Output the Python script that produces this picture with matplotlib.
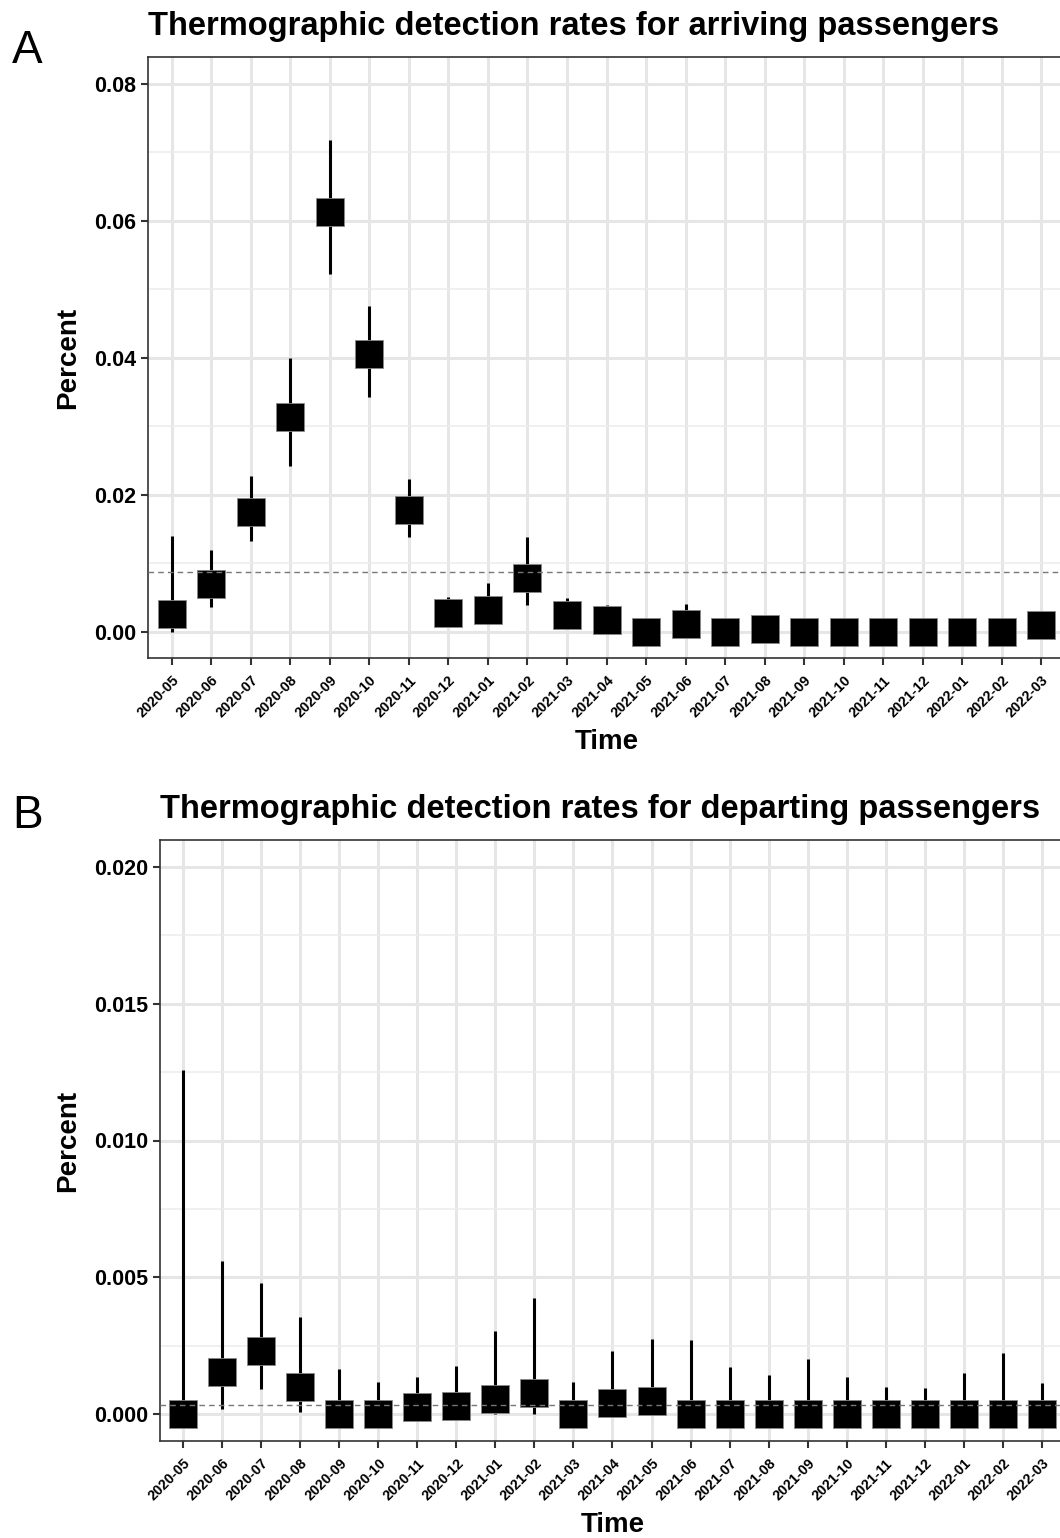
import matplotlib
matplotlib.use("Agg")
import matplotlib.pyplot as plt
from matplotlib.ticker import MultipleLocator

plt.rcParams['font.family'] = ['Liberation Sans', 'DejaVu Sans']

months = ["2020-05", "2020-06", "2020-07", "2020-08", "2020-09", "2020-10",
          "2020-11", "2020-12", "2021-01", "2021-02", "2021-03", "2021-04",
          "2021-05", "2021-06", "2021-07", "2021-08", "2021-09", "2021-10",
          "2021-11", "2021-12", "2022-01", "2022-02", "2022-03"]

# arriving passengers (percent)
arr_rate = [0.0026, 0.0070, 0.0175, 0.0314, 0.0613, 0.0406, 0.0178, 0.0028,
            0.0032, 0.0079, 0.0025, 0.0017, 0.0, 0.0011, 0.0, 0.0004,
            0.0, 0.0, 0.0, 0.0, 0.0, 0.0, 0.0010]
arr_lo = [0.0, 0.0036, 0.0133, 0.0242, 0.0523, 0.0343, 0.0139, 0.0010,
          0.0012, 0.0039, 0.0008, 0.0004, 0.0, 0.0001, 0.0, 0.0,
          0.0, 0.0, 0.0, 0.0, 0.0, 0.0, 0.0002]
arr_hi = [0.0140, 0.0120, 0.0228, 0.0400, 0.0718, 0.0476, 0.0223, 0.0051,
          0.0071, 0.0139, 0.0049, 0.0039, 0.0005, 0.0041, 0.0005, 0.0015,
          0.0005, 0.0005, 0.0005, 0.0005, 0.0005, 0.0005, 0.0025]
arr_mean = 0.0087

# departing passengers (percent)
dep_rate = [0.0, 0.00154, 0.00231, 0.00097, 0.0, 0.0, 0.00024, 0.00030,
            0.00054, 0.00077, 0.0, 0.00041, 0.00048, 0.0, 0.0, 0.0,
            0.0, 0.0, 0.0, 0.0, 0.0, 0.0, 0.0]
dep_lo = [0.0, 0.00017, 0.0009, 0.00007, 0.0, 0.0, 0.00001, 0.00002,
          0.0, 0.0, 0.0, 0.00001, 0.00002, 0.0, 0.0, 0.0,
          0.0, 0.0, 0.0, 0.0, 0.0, 0.0, 0.0]
dep_hi = [0.01258, 0.00559, 0.0048, 0.00356, 0.00165, 0.00116, 0.00136, 0.00176,
          0.00305, 0.00425, 0.00116, 0.00231, 0.00274, 0.00269, 0.00172, 0.00143,
          0.0020, 0.00134, 0.0010, 0.00095, 0.0015, 0.00224, 0.00112]
dep_mean = 0.00032

W, H = 1060, 1538
fig = plt.figure(figsize=(W / 100, H / 100), dpi=100)


def panel(rect, rate, lo, hi, mean, ylim, ystep, yfmt, title, letter, letter_y):
	ax = fig.add_axes(rect)
	x = list(range(1, len(months) + 1))
	ax.set_xlim(0.4, len(months) + 0.6)
	ax.set_ylim(ylim)
	ax.yaxis.set_major_locator(MultipleLocator(ystep))
	ax.yaxis.set_minor_locator(MultipleLocator(ystep / 2))
	ax.grid(True, which="major", color="#E6E6E6", linewidth=2.2, zorder=0)
	ax.grid(True, which="minor", axis="y", color="#EDEDED", linewidth=1.2, zorder=0)
	ax.tick_params(axis="y", which="minor", length=0)
	ax.set_axisbelow(True)
	ax.vlines(x, lo, hi, color="black", linewidth=2.2, zorder=2)
	ax.plot(x, rate, linestyle="none", marker="s", markersize=20.5,
		markerfacecolor="black", markeredgecolor="#888888", markeredgewidth=0.6, zorder=3)
	ax.axhline(mean, color="#777777", linewidth=1.0, linestyle=(0, (4, 3)), zorder=4)
	ax.set_xticks(x)
	ax.set_xticklabels(months, rotation=45, ha="right", rotation_mode="anchor",
		fontsize=10.3, fontweight="bold")
	ax.set_yticklabels([yfmt % v for v in ax.get_yticks()], fontsize=15.5, fontweight="bold")
	ax.set_ylim(ylim)
	ax.tick_params(axis="both", which="major", length=5, width=1.5, color="#333333")
	ax.tick_params(axis="x", pad=6)
	for s in ax.spines.values():
		s.set_color("#333333")
		s.set_linewidth(1.2)
	ax.set_xlabel("Time", fontsize=20, fontweight="bold", labelpad=6)
	ax.set_ylabel("Percent", fontsize=20, fontweight="bold", labelpad=9)
	ax.set_title(title, loc="left", fontsize=23.5, fontweight="bold", pad=16)
	fig.text(12 / W, letter_y, letter, fontsize=33, ha="left", va="baseline")
	return ax


panel([148 / W, 1 - 658 / H, 917 / W, 601 / H], arr_rate, arr_lo, arr_hi, arr_mean,
	(-0.0038, 0.0839), 0.02, "%.2f",
	"Thermographic detection rates for arriving passengers", "A", 1 - 63 / H)
panel([160 / W, 1 - 1441 / H, 905 / W, 601 / H], dep_rate, dep_lo, dep_hi, dep_mean,
	(-0.00099, 0.02099), 0.005, "%.3f",
	"Thermographic detection rates for departing passengers", "B", 1 - 828 / H)

fig.savefig("out.png", dpi=100)
